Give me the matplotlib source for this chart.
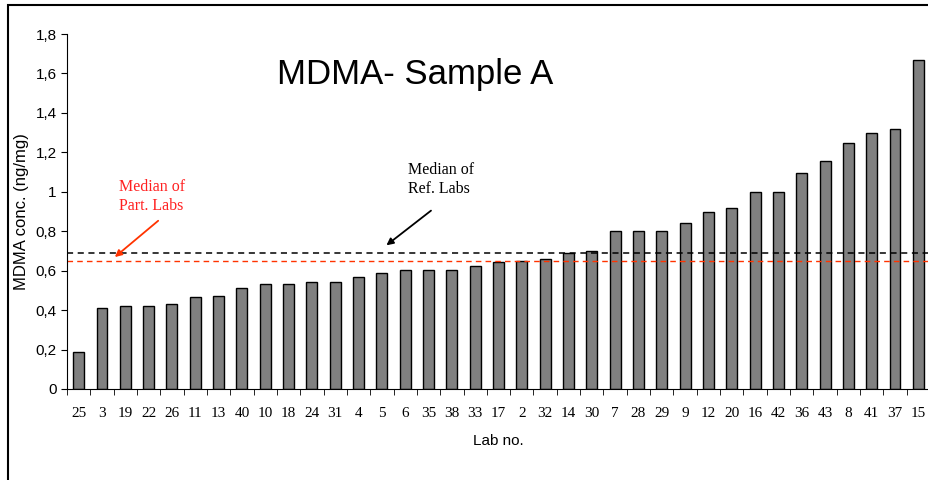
import matplotlib.pyplot as plt
from matplotlib.patches import Rectangle

# Labornummern (sortiert nach Konzentration)
labs = ['25', '3', '19', '22', '26', '11', '13', '40', '10', '18', '24', '31',
        '4', '5', '6', '35', '38', '33', '17', '2', '32', '14', '30', '7',
        '28', '29', '9', '12', '20', '16', '42', '36', '43', '8', '41', '37', '15']

# MDMA-Konzentrationen (ng/mg)
werte = [0.19, 0.41, 0.42, 0.42, 0.43, 0.465, 0.47, 0.51, 0.53, 0.53, 0.545, 0.545,
         0.568, 0.59, 0.602, 0.602, 0.602, 0.622, 0.643, 0.648, 0.661, 0.69, 0.70, 0.80,
         0.80, 0.80, 0.84, 0.90, 0.92, 1.0, 1.0, 1.097, 1.158, 1.249, 1.297, 1.317, 1.668]

median_ref = 0.69
median_part = 0.65

fig = plt.figure(figsize=(9.29, 4.8), dpi=100)
ax = fig.add_axes([67 / 929, 91 / 480, 863 / 929, 355 / 480])

x = list(range(len(labs)))
ax.bar(x, werte, width=0.47, color='#808080', edgecolor='black', linewidth=1.0)

ax.axhline(median_ref, color='black', linestyle=(0, (4, 3)), linewidth=1.1)
ax.axhline(median_part, color='#ff3300', linestyle=(0, (4, 3)), linewidth=1.0)

ax.set_xlim(-0.5, len(labs) - 0.5)
ax.set_ylim(0, 1.8)
ax.set_yticks([0, 0.2, 0.4, 0.6, 0.8, 1.0, 1.2, 1.4, 1.6, 1.8])
ax.set_yticklabels(['0', '0,2', '0,4', '0,6', '0,8', '1', '1,2', '1,4', '1,6', '1,8'],
                   fontfamily='Liberation Sans', fontsize=11)
ax.set_xticks(x)
ax.set_xticklabels(labs, fontfamily='Liberation Serif', fontsize=11)
ax.set_xticks([i - 0.5 for i in range(len(labs) + 1)], minor=True)
ax.tick_params(axis='x', which='major', length=0, pad=13)
ax.tick_params(axis='x', which='minor', length=4, direction='out')
ax.tick_params(axis='y', length=4, direction='out')

for s in ['top', 'right']:
    ax.spines[s].set_visible(False)

ax.set_ylabel('MDMA conc. (ng/mg)', fontfamily='Liberation Sans', fontsize=12, labelpad=5)
ax.set_xlabel('Lab no.', fontfamily='Liberation Sans', fontsize=11, labelpad=10)

ax.text(0.403, 0.885, 'MDMA- Sample A', transform=ax.transAxes, ha='center', va='center',
        fontfamily='Liberation Sans', fontsize=25)

# Anmerkungen
ax.annotate('Median of\nPart. Labs', xy=(1.46, 0.66), xytext=(1.75, 1.065),
            color='#ff2020', fontfamily='Liberation Serif', fontsize=11.5, va='top',
            ha='left', linespacing=1.25)
ax.annotate('', xy=(1.46, 0.66), xytext=(3.5, 0.862),
            arrowprops=dict(arrowstyle='-|>', color='#ff3300', lw=1.3, mutation_scale=10))
ax.annotate('Median of\nRef. Labs', xy=(13.1, 0.72), xytext=(14.1, 1.15),
            color='black', fontfamily='Liberation Serif', fontsize=11.5, va='top',
            ha='left', linespacing=1.25)
ax.annotate('', xy=(13.1, 0.72), xytext=(15.2, 0.913),
            arrowprops=dict(arrowstyle='-|>', color='black', lw=1.3, mutation_scale=10))

# Rahmen um das Diagramm
fig.patches.append(Rectangle((8 / 929, -0.1), 1.1, 1.1 - 5 / 480, transform=fig.transFigure,
                             fill=False, edgecolor='black', linewidth=1.5))

fig.savefig('out.png', dpi=100)
